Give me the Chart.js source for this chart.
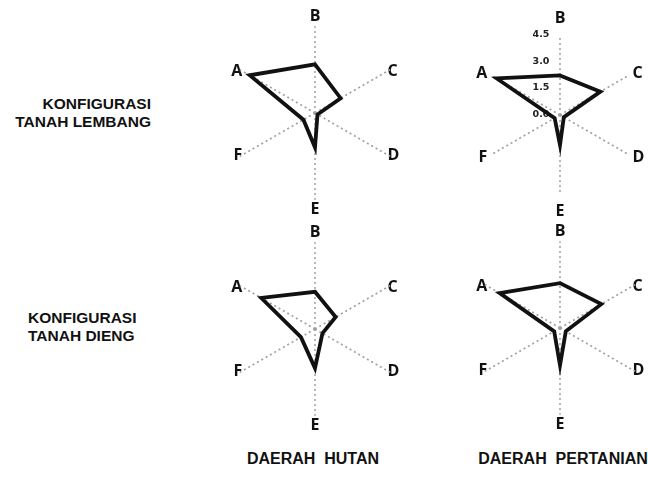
<!DOCTYPE html>
<html>
<head>
<meta charset="utf-8">
<script src="https://cdn.jsdelivr.net/npm/chart.js@4"></script>
<style>
  body { margin: 0; width: 648px; height: 478px; background: #fff; position: relative; overflow: hidden; }
  canvas { position: absolute; }
  .lbl { position: absolute; font-family: "Liberation Sans", Arial, sans-serif; font-weight: bold; color: #111; white-space: pre; line-height: 18px; }
</style>
</head>
<body>
<div class="lbl" style="left:0; width:151px; top:95px; font-size:15.5px; text-align:right;">KONFIGURASI
TANAH LEMBANG</div>
<div class="lbl" style="left:28px; top:309px; font-size:15.5px;">KONFIGURASI
TANAH DIENG</div>
<div class="lbl" style="left:213px; width:200px; top:450px; font-size:16px; text-align:center;">DAERAH  HUTAN</div>
<div class="lbl" style="left:463px; width:200px; top:450px; font-size:16px; text-align:center;">DAERAH  PERTANIAN</div>

<canvas id="c1" width="200" height="220" style="left:215px; top:3px;"></canvas>
<canvas id="c2" width="200" height="220" style="left:460px; top:5px;"></canvas>
<canvas id="c3" width="200" height="220" style="left:215px; top:219px;"></canvas>
<canvas id="c4" width="200" height="220" style="left:460px; top:218px;"></canvas>

<script>
// axes in drawing order (B at top, clockwise)
const categories = ["B", "C", "D", "E", "F", "A"];
const hutanLembang = [2.5, 1.5, 0.1, 1.75, 0.65, 3.9];
const pertanianLembang = [2.2, 2.6, 0.2, 1.65, 0.3, 4.1];
const hutanDieng = [1.9, 1.2, 0.4, 2.0, 0.8, 3.2];
const pertanianDieng = [2.3, 2.45, 0.3, 1.9, 0.3, 3.6];
const scaleMax = 4.5;
const scaleStep = 1.5;

function makeRadar(id, values, showTicks) {
  const ctx = document.getElementById(id).getContext("2d");
  return new Chart(ctx, {
    type: "radar",
    data: {
      labels: categories,
      datasets: [
        {
          data: values,
          fill: false,
          borderColor: "#111",
          borderWidth: 3.8,
          borderJoinStyle: "miter",
          pointRadius: 0,
          tension: 0,
        },
      ],
    },
    options: {
      responsive: false,
      animation: false,
      layout: { padding: { top: 13, bottom: 13 } },
      plugins: {
        legend: { display: false },
        tooltip: { enabled: false },
      },
      scales: {
        r: {
          min: -0.05,
          max: scaleMax,
          grid: { display: false },
          angleLines: {
            color: "#a0a0a0",
            lineWidth: 1.5,
            borderDash: [2, 3],
          },
          ticks: {
            display: showTicks,
            stepSize: scaleStep,
            includeBounds: false,
            showLabelBackdrop: false,
            color: "#222",
            font: { family: "DejaVu Sans", size: 9.5, weight: "bold" },
            callback: (v) => (v < 0 ? "" : v.toFixed(1) + "\u2003\u2003\u2003\u2003"),
          },
          pointLabels: {
            color: "#111",
            // top/bottom labels sit further out than the slanted ones
            padding: (c) => (c.index === 0 || c.index === 3 ? 10 : -3),
            font: { family: "Open Sans", size: 16, weight: "bold", lineHeight: 0.01 },
          },
        },
      },
    },
  });
}

makeRadar("c1", hutanLembang, false);
makeRadar("c2", pertanianLembang, true);
makeRadar("c3", hutanDieng, false);
makeRadar("c4", pertanianDieng, false);
</script>
</body>
</html>
